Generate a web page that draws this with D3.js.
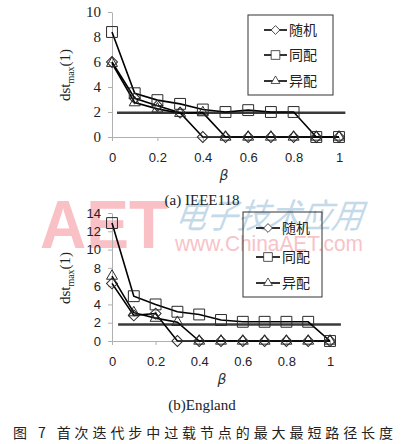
<!DOCTYPE html>
<html>
<head>
<meta charset="utf-8">
<script src="https://cdn.jsdelivr.net/npm/d3@7"></script>
<style>
  body { margin: 0; background: #fff; }
  svg { display: block; }
</style>
</head>
<body>
<svg id="chart" width="404" height="444"></svg>
<script>
// data
var betas = [0, 0.1, 0.2, 0.3, 0.4, 0.5, 0.6, 0.7, 0.8, 0.9, 1];
var seriesNames = ["随机", "同配", "异配"];
var xTicks = [0, 0.2, 0.4, 0.6, 0.8, 1];

var ieeeRandom     = [6.0, 3.1, 2.5, 1.95, 0, 0, 0, 0, 0, 0, 0];
var ieeeAssort     = [8.4, 3.5, 2.95, 2.65, 2.2, 2.0, 2.15, 2.0, 2.0, 0, 0];
var ieeeDisassort  = [5.9, 2.75, 2.25, 1.9, 1.95, 0, 0, 0, 0, 0, 0];
var ieeeRef = 1.95;
var ieeeYTicks = [0, 2, 4, 6, 8, 10];

var engRandom      = [6.3, 2.8, 3.0, 0, 0, 0, 0, 0, 0, 0, 0];
var engAssort      = [12.9, 4.9, 4.0, 3.2, 2.9, 2.3, 2.1, 2.1, 2.1, 2.1, 0];
var engDisassort   = [7.1, 3.1, 2.5, 2.05, 0, 0, 0, 0, 0, 0, 0];
var engRef = 1.8;
var engYTicks = [0, 2, 4, 6, 8, 10, 12, 14];

var svg = d3.select("#chart");

// watermark (drawn underneath)
var wm = svg.append("g").attr("class", "watermark");
wm.append("text")
    .attr("x", 40).attr("y", 248)
    .attr("font-family", "Liberation Sans, Arial, sans-serif")
    .attr("font-weight", "bold")
    .attr("font-size", 68)
    .attr("textLength", 128)
    .attr("lengthAdjust", "spacingAndGlyphs")
    .attr("fill", "#f9c0c6")
    .text("AET");
wm.append("text")
    .attr("x", 176).attr("y", 228)
    .attr("font-family", "Noto Sans CJK SC")
    .attr("font-size", 34)
    .attr("font-style", "italic")
    .attr("textLength", 188)
    .attr("lengthAdjust", "spacingAndGlyphs")
    .attr("fill", "#c4dae9")
    .attr("transform", "skewX(-8) translate(30,0)")
    .text("电子技术应用");
wm.append("text")
    .attr("x", 175).attr("y", 251)
    .attr("font-family", "Liberation Sans, Arial, sans-serif")
    .attr("font-size", 22)
    .attr("textLength", 188)
    .attr("lengthAdjust", "spacingAndGlyphs")
    .attr("fill", "#f7c3c8")
    .text("www.ChinaAET.com");

var symbols = [
  d3.symbol().type(d3.symbolSquare).size(60),   // diamond = rotated square
  d3.symbol().type(d3.symbolSquare).size(118),
  d3.symbol().type(d3.symbolTriangle).size(52)
];
var rotations = [45, 0, 0];

function drawPanel(cfg) {
  var x = d3.scaleLinear().domain([0, 1]).range(cfg.xRange);
  var y = d3.scaleLinear().domain([0, cfg.yTicks[cfg.yTicks.length - 1]]).range(cfg.yRange);
  var g = svg.append("g");

  // y axis
  g.append("g")
      .attr("transform", "translate(" + x(0) + ",0)")
      .call(d3.axisLeft(y).tickValues(cfg.yTicks).tickSize(4).tickSizeOuter(0).tickPadding(7))
      .call(function(a) {
        a.select(".domain").attr("stroke", "#b0b0b0");
        a.selectAll(".tick line").attr("stroke", "#b0b0b0");
        a.selectAll("text")
          .attr("font-family", cfg.yFont)
          .attr("font-size", cfg.yFontSize)
          .attr("fill", "#222");
      });

  // x axis
  g.append("g")
      .attr("transform", "translate(0," + y(0) + ")")
      .call(d3.axisBottom(x).tickValues(xTicks).tickSize(4).tickSizeOuter(0).tickPadding(12)
            .tickFormat(function(d) { return d; }))
      .call(function(a) {
        a.select(".domain").attr("stroke", "#b0b0b0");
        a.selectAll(".tick line").attr("stroke", "#b0b0b0");
        a.selectAll("text")
          .attr("font-family", "Liberation Sans, Arial, sans-serif")
          .attr("font-size", 13)
          .attr("fill", "#222");
      });

  // reference line
  g.append("line")
      .attr("x1", x(cfg.refSpan[0])).attr("x2", x(cfg.refSpan[1]))
      .attr("y1", y(cfg.ref)).attr("y2", y(cfg.ref))
      .attr("stroke", "#3a3a3a")
      .attr("stroke-width", 2.5);

  var line = d3.line()
      .x(function(d, i) { return x(betas[i]); })
      .y(function(d) { return y(d); });

  cfg.series.forEach(function(vals, si) {
    g.append("path")
        .attr("d", line(vals))
        .attr("fill", "none")
        .attr("stroke", "#000")
        .attr("stroke-width", 1.6);
  });
  cfg.series.forEach(function(vals, si) {
    g.selectAll(".m" + si)
      .data(vals)
      .enter().append("path")
        .attr("d", symbols[si])
        .attr("transform", function(d, i) {
          return "translate(" + x(betas[i]) + "," + y(d) + ") rotate(" + rotations[si] + ")";
        })
        .attr("fill", "none")
        .attr("stroke", "#2a2a2a")
        .attr("stroke-width", 1);
  });

  // y label
  var yl = g.append("text")
      .attr("transform", "translate(" + cfg.yLabelPos[0] + "," + cfg.yLabelPos[1] + ") rotate(-90)")
      .attr("text-anchor", "middle")
      .attr("font-family", "Liberation Serif, Times New Roman, serif")
      .attr("font-size", 15)
      .attr("fill", "#222");
  yl.append("tspan").text("dst");
  yl.append("tspan").attr("font-size", 10).attr("dy", 4).text("max");
  yl.append("tspan").attr("dy", -4).text("(1)");

  // x label
  g.append("text")
      .attr("x", cfg.xLabelPos[0]).attr("y", cfg.xLabelPos[1])
      .attr("text-anchor", "middle")
      .attr("font-family", "DejaVu Sans, sans-serif")
      .attr("font-style", "italic")
      .attr("font-size", 14)
      .attr("fill", "#333")
      .text("β");

  // legend
  var lb = cfg.legendBox;
  g.append("rect")
      .attr("x", lb[0]).attr("y", lb[1])
      .attr("width", lb[2]).attr("height", lb[3])
      .attr("fill", "none")
      .attr("stroke", "#333")
      .attr("stroke-width", 1);
  seriesNames.forEach(function(name, si) {
    var ly = cfg.legendRows[si], lx = cfg.legendLine;
    g.append("line")
        .attr("x1", lx[0]).attr("x2", lx[1])
        .attr("y1", ly).attr("y2", ly)
        .attr("stroke", "#000").attr("stroke-width", 1.6);
    g.append("path")
        .attr("d", symbols[si])
        .attr("transform", "translate(" + (lx[0] + lx[1]) / 2 + "," + ly + ") rotate(" + rotations[si] + ") scale(0.8)")
        .attr("fill", "#fff")
        .attr("stroke", "#2a2a2a");
    g.append("text")
        .attr("x", lx[1] + 2).attr("y", ly + 5)
        .attr("font-family", "Noto Sans CJK SC")
        .attr("font-size", 14)
        .attr("fill", "#222")
        .text(name);
  });

  // sub caption
  g.append("text")
      .attr("x", 202).attr("y", cfg.captionY)
      .attr("text-anchor", "middle")
      .attr("font-family", "Liberation Serif, Times New Roman, serif")
      .attr("font-size", 15)
      .attr("fill", "#222")
      .text(cfg.caption);
}

drawPanel({
  series: [ieeeRandom, ieeeAssort, ieeeDisassort],
  ref: ieeeRef, refSpan: [0.022, 1.028],
  yTicks: ieeeYTicks,
  xRange: [112, 339], yRange: [137, 12],
  yFont: "Liberation Serif, Times New Roman, serif", yFontSize: 15,
  yLabelPos: [70, 75], xLabelPos: [224, 180],
  legendBox: [248, 15, 85, 80], legendRows: [30, 55, 81], legendLine: [264, 287],
  caption: "(a) IEEE118", captionY: 205
});

drawPanel({
  series: [engRandom, engAssort, engDisassort],
  ref: engRef, refSpan: [0.028, 1.05],
  yTicks: engYTicks,
  xRange: [112, 330], yRange: [341, 213],
  yFont: "Liberation Sans, Arial, sans-serif", yFontSize: 13,
  yLabelPos: [70, 278], xLabelPos: [222, 384],
  legendBox: [243, 212, 79, 85], legendRows: [228, 257, 283], legendLine: [256, 280],
  caption: "(b)England", captionY: 410
});

// figure caption
svg.append("text")
    .attr("x", 13).attr("y", 438)
    .attr("font-family", "Noto Sans CJK SC")
    .attr("font-size", 14)
    .attr("fill", "#222")
    .attr("textLength", 380)
    .attr("lengthAdjust", "spacing")
    .text("图 7  首次迭代步中过载节点的最大最短路径长度");
</script>
</body>
</html>
